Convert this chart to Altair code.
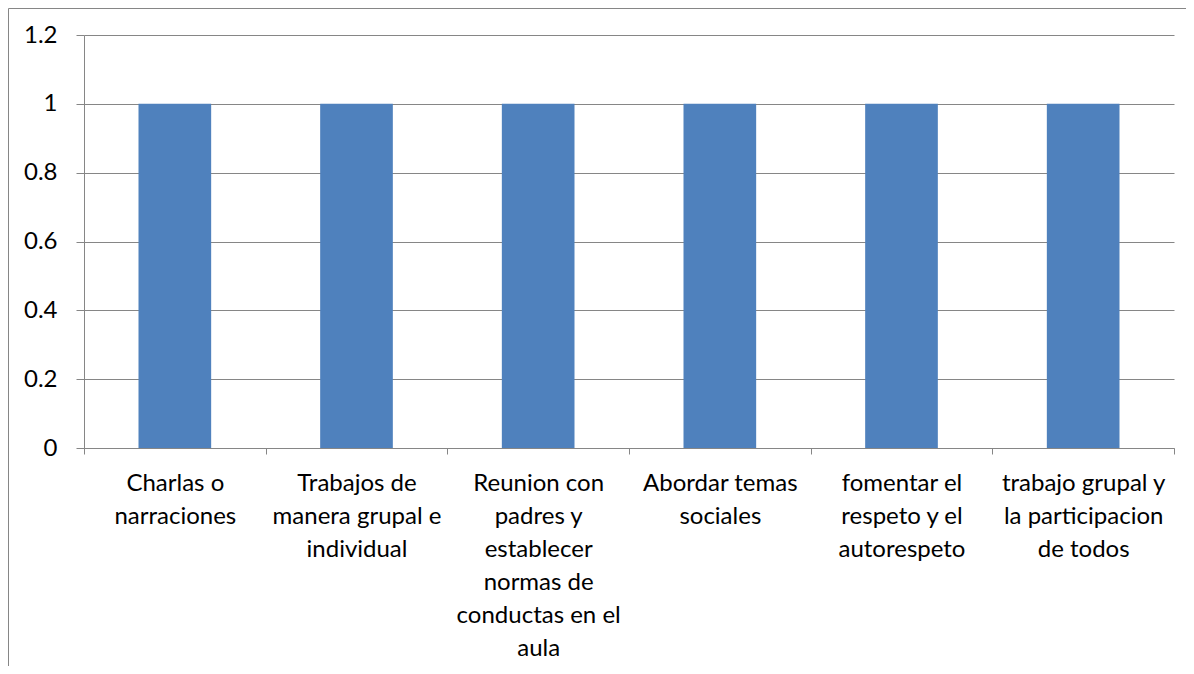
import altair as alt
import pandas as pd

categories = [
    "Charlas o narraciones",
    "Trabajos de manera grupal e individual",
    "Reunion con padres y establecer normas de conductas en el aula",
    "Abordar temas sociales",
    "fomentar el respeto y el autorespeto",
    "trabajo grupal y la participacion de todos",
]
label_lines = [
    ["Charlas o", "narraciones"],
    ["Trabajos de", "manera grupal e", "individual"],
    ["Reunion con", "padres y", "establecer", "normas de", "conductas en el", "aula"],
    ["Abordar temas", "sociales"],
    ["fomentar el", "respeto y el", "autorespeto"],
    ["trabajo grupal y", "la participacion", "de todos"],
]
values = [1, 1, 1, 1, 1, 1]
y_ticks = [0, 0.2, 0.4, 0.6, 0.8, 1.0, 1.2]

df = pd.DataFrame({
    "categoria": categories,
    "etiqueta": ["|".join(l) for l in label_lines],
    "valor": values,
})

GRAY = "#868686"
FONT = "Lato"

bars = alt.Chart(df).mark_bar(width=alt.RelativeBandSize(0.4), color="#4F81BD").encode(
    x=alt.X("etiqueta:N", sort=None,
            scale=alt.Scale(paddingInner=0, paddingOuter=0),
            axis=alt.Axis(title=None, labelAngle=0, tickBand="extent",
                          labelExpr="split(datum.label, '|')",
                          labelFont=FONT, labelFontSize=24, labelLineHeight=33,
                          labelColor="#000000", labelLimit=400, labelPadding=17,
                          domainColor=GRAY, tickColor=GRAY, tickSize=6,
                          labelBaseline="top")),
    y=alt.Y("valor:Q",
            scale=alt.Scale(domain=[0, 1.2], nice=False),
            axis=alt.Axis(title=None, values=y_ticks, format="~g", grid=True,
                          gridColor=GRAY, domainColor=GRAY, tickColor=GRAY, tickSize=8,
                          labelFont=FONT, labelFontSize=24, labelColor="#000000",
                          labelPadding=19)),
)

border_data = alt.Data(values=[{"k": 1}])
left_border = alt.Chart(border_data).mark_rule(color=GRAY, strokeWidth=1).encode(
    x=alt.value(-75.5), y=alt.value(-26.5), y2=alt.value(640)
)
top_border = alt.Chart(border_data).mark_rule(color=GRAY, strokeWidth=1).encode(
    x=alt.value(-75.5), x2=alt.value(1110), y=alt.value(-26.5)
)

chart = alt.layer(bars, left_border, top_border).properties(
    width=1090, height=413,
    autosize=alt.AutoSizeParams(type="none"),
    padding={"left": 76, "top": 27, "right": 12, "bottom": 218},
).configure_view(stroke=None)

chart.save("out.html", embed_options={"renderer": "svg", "actions": False})
